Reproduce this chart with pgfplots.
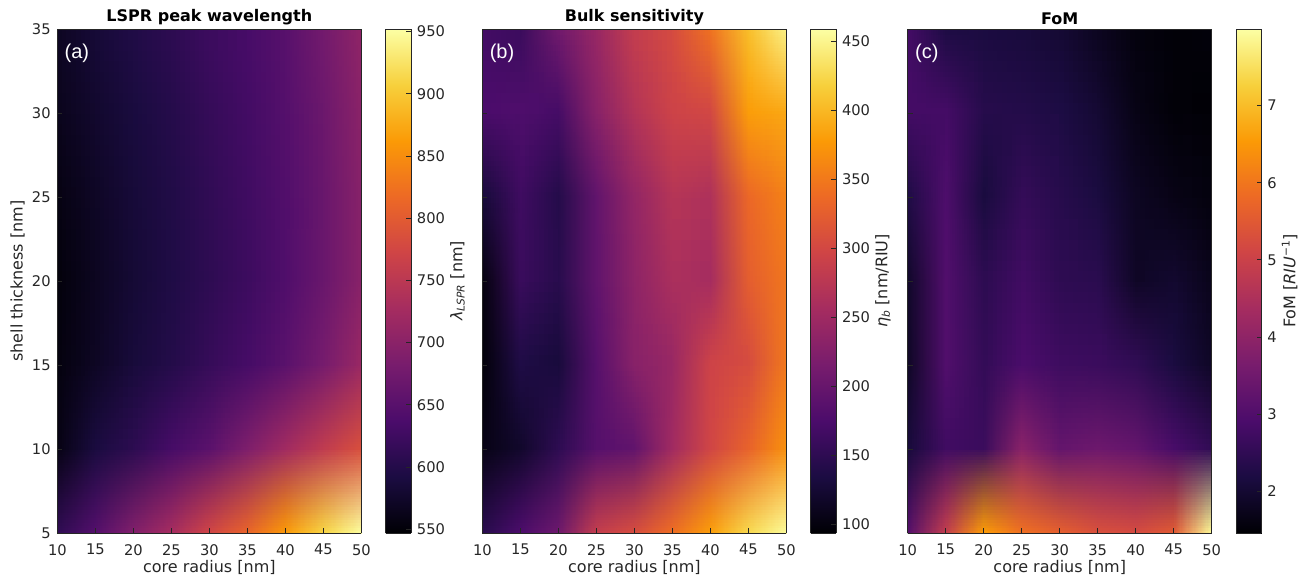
\documentclass[border=0pt]{standalone}
\usepackage{fontspec}
\usepackage{pgfplots}
\usepgfplotslibrary{patchplots}
\pgfplotsset{compat=1.18}
\usepackage{pgfplotstable}
\setmainfont{DejaVu Sans}
\newfontfamily\lab{Liberation Sans}
\definecolor{axc}{rgb}{0.15,0.15,0.15}
\pgfplotsset{colormap={inferno}{rgb255=(0,0,4) rgb255=(27,12,66) rgb255=(75,12,107) rgb255=(120,28,109) rgb255=(165,44,96) rgb255=(207,68,70) rgb255=(237,105,37) rgb255=(251,154,6) rgb255=(247,208,60) rgb255=(252,255,164)}}
\newcommand\sg[2]{max(0,min(1,9*#1-#2))}
\pgfmathdeclarefunction{infr}{1}{\pgfmathparse{(27*\sg{#1}{0}+48*\sg{#1}{1}+45*\sg{#1}{2}+45*\sg{#1}{3}+42*\sg{#1}{4}+30*\sg{#1}{5}+14*\sg{#1}{6}-4*\sg{#1}{7}+5*\sg{#1}{8})/255}}
\pgfmathdeclarefunction{infg}{1}{\pgfmathparse{(12*\sg{#1}{0}+16*\sg{#1}{2}+16*\sg{#1}{3}+24*\sg{#1}{4}+37*\sg{#1}{5}+49*\sg{#1}{6}+54*\sg{#1}{7}+47*\sg{#1}{8})/255}}
\pgfmathdeclarefunction{infb}{1}{\pgfmathparse{(4+62*\sg{#1}{0}+41*\sg{#1}{1}+2*\sg{#1}{2}-13*\sg{#1}{3}-26*\sg{#1}{4}-33*\sg{#1}{5}-31*\sg{#1}{6}+54*\sg{#1}{7}+104*\sg{#1}{8})/255}}

\pgfplotstableread{
x y v
10 5 610
15 5 645
20 5 690
25 5 727
30 5 772
35 5 810
40 5 860
45 5 910
50 5 950
10 10 558
15 10 590
20 10 608
25 10 632
30 10 652
35 10 687
40 10 722
45 10 755
50 10 785
10 15 555
15 15 570
20 15 587
25 15 600
30 15 617
35 15 632
40 15 652
45 15 680
50 15 715
10 20 553
15 20 568
20 20 583
25 20 596
30 20 610
35 20 624
40 20 642
45 20 667
50 20 698
10 25 558
15 25 572
20 25 586
25 25 598
30 25 613
35 25 627
40 25 644
45 25 667
50 25 697
10 30 565
15 30 578
20 30 590
25 30 602
30 30 617
35 30 630
40 30 647
45 30 670
50 30 700
10 35 570
15 35 585
20 35 598
25 35 610
30 35 625
35 35 635
40 35 650
45 35 677
50 35 705
}\dataA
\pgfplotstableread{
x y v
10 5 145
15 5 175
20 5 205
25 5 285
30 5 305
35 5 340
40 5 380
45 5 425
50 5 455
10 10 105
15 10 120
20 10 150
25 10 185
30 10 195
35 10 252
40 10 298
45 10 330
50 10 370
10 15 97
15 15 138
20 15 130
25 15 185
30 15 230
35 15 245
40 15 295
45 15 305
50 15 350
10 20 100
15 20 160
20 20 145
25 20 195
30 20 235
35 20 262
40 20 256
45 20 325
50 20 348
10 25 130
15 25 165
20 25 142
25 25 195
30 25 240
35 25 272
40 25 265
45 25 335
50 25 358
10 30 175
15 30 178
20 30 170
25 30 230
30 30 270
35 30 295
40 30 300
45 30 380
50 30 388
10 35 167
15 35 160
20 35 210
25 35 245
30 35 287
35 35 305
40 35 345
45 35 405
50 35 448
}\dataB
\pgfplotstableread{
x y v
10 5 3.05
15 5 4.85
20 5 6.55
25 5 5.9
30 5 5.6
35 5 5.3
40 5 5.2
45 5 5.5
50 5 7.9
10 10 2.1
15 10 2.75
20 10 2.65
25 10 3.9
30 10 3.3
35 10 3.45
40 10 3.3
45 10 2.85
50 10 2.5
10 15 1.85
15 15 3.0
20 15 2.55
25 15 2.9
30 15 2.7
35 15 2.65
40 15 2.5
45 15 2.15
50 15 1.85
10 20 1.9
15 20 3.0
20 20 2.45
25 20 2.75
30 20 2.45
35 20 2.4
40 20 1.85
45 20 1.95
50 20 1.7
10 25 2.25
15 25 2.95
20 25 2.15
25 25 2.55
30 25 2.35
35 25 2.15
40 25 1.8
45 25 1.65
50 25 1.55
10 30 2.8
15 30 2.8
20 30 2.35
25 30 2.3
30 30 2.2
35 30 2.0
40 30 1.65
45 30 1.5
50 30 1.47
10 35 2.8
15 35 2.2
20 35 2.15
25 35 2.1
30 35 2.0
35 35 1.75
40 35 1.55
45 35 1.5
50 35 1.55
}\dataC

\pgfplotsset{
 base/.style={scale only axis, axis on top, axis line style={axc,line width=0.6pt},
   tick style={axc,line width=0.6pt}, major tick length=3.6pt,
   tick label style={font=\fontsize{11}{12}\selectfont,text=axc},
   label style={font=\fontsize{12}{13}\selectfont,text=axc},
   /pgf/number format/assume math mode=true},
 heat/.style={base, view={0}{90}, width=228pt, height=378pt,
   xmin=10,xmax=50,ymin=5,ymax=35,
   xtick={10,15,...,50}, ytick={5,10,...,35}, xtick pos=bottom, ytick pos=left,
   xticklabel style={yshift=-4.8pt}, yticklabel style={xshift=-1.5pt},
   xlabel={core radius [nm]}, xlabel style={yshift=3pt},
   title style={font=\fontsize{12}{13}\selectfont\bfseries,yshift=-6.5pt}},
 cb/.style={base, width=19pt, height=378pt, xmin=0,xmax=1, xtick=\empty,
   view={0}{90}, ytick pos=right, yticklabel pos=right, ylabel near ticks,
   yticklabel style={xshift=1pt},
   ylabel style={font=\fontsize{12}{13}\selectfont,text=axc,yshift=3pt}, colormap name=inferno},
 dat/.style={surf, shader=interp, patch type=bilinear, mesh/cols=9, mesh/color input=explicit mathparse},
}
\newcommand\tagl[1]{\node[anchor=west,text=white,font=\lab\fontsize{15}{16}\selectfont] at (axis cs:10.35,33.55) {#1};}
\begin{document}
\begin{tikzpicture}[x=1pt,y=1pt]
\path[use as bounding box] (0,0) rectangle (980.25,432);
% panel a
\begin{axis}[heat, at={(43pt,32.25pt)}, anchor=south west, title={LSPR peak wavelength},
  ylabel={shell thickness [nm]}, ylabel style={yshift=-1.5pt}]
\addplot3[dat, point meta={symbolic={infr((\thisrow{v}-547)/405),infg((\thisrow{v}-547)/405),infb((\thisrow{v}-547)/405)}}] table[x=x,y=y,z=v] {\dataA};
\tagl{(a)}
\end{axis}
\begin{axis}[cb, at={(289.2pt,32.25pt)}, anchor=south west, ymin=547,ymax=952,
  ytick={550,600,...,950}, ylabel={{\itshape λ}\textsubscript{\itshape LSPR} [nm]}]
\addplot3[surf,shader=interp,point meta=z,point meta min=547,point meta max=952] coordinates {(0,547,547) (1,547,547)

(0,952,952) (1,952,952)};
\end{axis}
% panel b
\begin{axis}[heat, at={(361.8pt,32.25pt)}, anchor=south west, title={Bulk sensitivity}, yticklabels={}]
\addplot3[dat, point meta={symbolic={infr((\thisrow{v}-93.9)/364.9),infg((\thisrow{v}-93.9)/364.9),infb((\thisrow{v}-93.9)/364.9)}}] table[x=x,y=y,z=v] {\dataB};
\tagl{(b)}
\end{axis}
\begin{axis}[cb, at={(608pt,32.25pt)}, anchor=south west, ymin=93.9,ymax=458.8,
  ytick={100,150,...,450}, ylabel={{\itshape η}\textsubscript{\itshape b} [nm/RIU]}]
\addplot3[surf,shader=interp,point meta=z,point meta min=93.9,point meta max=458.8] coordinates {(0,93.9,93.9) (1,93.9,93.9)

(0,458.8,458.8) (1,458.8,458.8)};
\end{axis}
% panel c
\begin{axis}[heat, at={(680.8pt,32.25pt)}, anchor=south west, title={FoM}, yticklabels={}]
\addplot3[dat, point meta={symbolic={infr((\thisrow{v}-1.458)/6.536),infg((\thisrow{v}-1.458)/6.536),infb((\thisrow{v}-1.458)/6.536)}}] table[x=x,y=y,z=v] {\dataC};
\tagl{(c)}
\end{axis}
\begin{axis}[cb, at={(927pt,32.25pt)}, anchor=south west, ymin=1.458,ymax=7.994,
  ytick={2,3,...,7}, ylabel={FoM [{\itshape RIU}\textsuperscript{−1}]}]
\addplot3[surf,shader=interp,point meta=z,point meta min=1.458,point meta max=7.994] coordinates {(0,1.458,1.458) (1,1.458,1.458)

(0,7.994,7.994) (1,7.994,7.994)};
\end{axis}
\end{tikzpicture}
\end{document}
